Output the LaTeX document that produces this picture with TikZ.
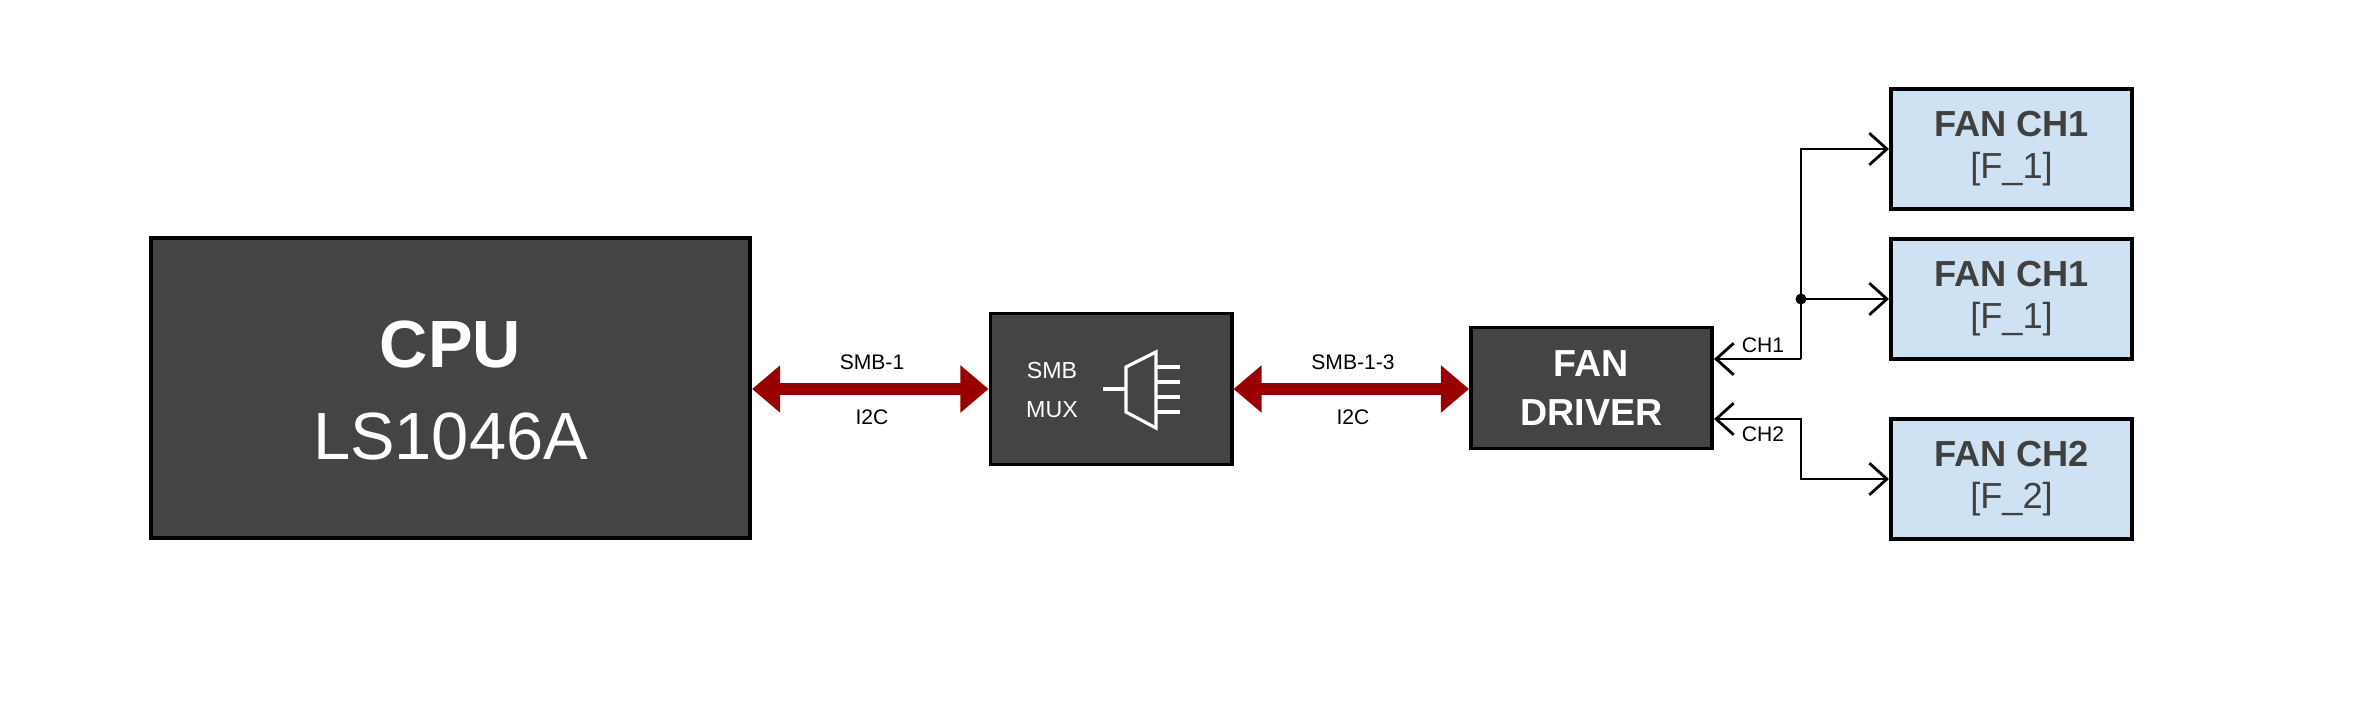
\documentclass[tikz,border=0pt]{standalone}
\usepackage{fontspec}
\setmainfont{Liberation Sans}
\usetikzlibrary{arrows.meta}
\definecolor{dk}{HTML}{444444}
\definecolor{fanfill}{HTML}{CFE2F3}
\definecolor{fantext}{HTML}{404040}
\definecolor{bus}{HTML}{990000}
\begin{document}
\begin{tikzpicture}[x=0.01cm,y=-0.01cm,
  blk/.style={draw=black,line width=1.1pt,fill=dk,text=white,inner sep=0pt,align=center},
  fan/.style={draw=black,line width=1.1pt,fill=fanfill,text=fantext,inner sep=0pt,align=center},
  busarr/.style={bus,line width=3.4pt,{Triangle[length=8pt,width=13pt]}-{Triangle[length=8pt,width=13pt]}},
  sig/.style={draw=black,line width=0.8pt,-{Straight Barb[length=5pt,width=9pt]}},
  lbl/.style={font=\fontsize{6}{7}\selectfont,inner sep=1pt}]
\useasboundingbox (0,0) rectangle (2363,709);
\node[blk,minimum width=5.99cm,minimum height=3.0cm] (cpu) at (450.5,388) {};
\node[text=white,font=\fontsize{19}{24}\selectfont\bfseries] (cput) at (450.5,344) {CPU};
\node[text=white,font=\fontsize{19}{24}\selectfont] (cpus) at (450.5,436) {LS1046A};
\node[blk,minimum width=2.41cm,minimum height=1.51cm] (mux) at (1111,389) {};
\node[text=white,font=\fontsize{6.6}{10}\selectfont,align=center] (muxt) at (1052,390) {SMB\\[1pt]MUX};
\draw[white,line width=0.9pt] (1126,367) -- (1156,352) -- (1156,428) -- (1126,412) -- cycle;
\draw[white,line width=0.9pt] (1103,389) -- (1126,389)
  (1156,367) -- (1180,367) (1156,382) -- (1180,382) (1156,397) -- (1180,397) (1156,412) -- (1180,412);
\node[blk,minimum width=2.41cm,minimum height=1.21cm,font=\fontsize{10.7}{14}\selectfont\bfseries] (drv) at (1591.5,388) {FAN\\DRIVER};
\node[fan,minimum width=2.41cm,minimum height=1.2cm] (f1) at (2011.5,149) {{\fontsize{10.3}{12}\selectfont\bfseries FAN CH1}\\{\fontsize{10.3}{12}\selectfont [F\_1]}};
\node[fan,minimum width=2.41cm,minimum height=1.2cm] (f2) at (2011.5,299) {{\fontsize{10.3}{12}\selectfont\bfseries FAN CH1}\\{\fontsize{10.3}{12}\selectfont [F\_1]}};
\node[fan,minimum width=2.41cm,minimum height=1.2cm] (f3) at (2011.5,479) {{\fontsize{10.3}{12}\selectfont\bfseries FAN CH2}\\{\fontsize{10.3}{12}\selectfont [F\_2]}};
\draw[busarr] (cpu.east|-0,389) -- (mux.west|-0,389);
\draw[busarr] (mux.east|-0,389) -- (drv.west|-0,389);
\node[lbl] at (872,362) {SMB-1};
\node[lbl] at (872,417) {I2C};
\node[lbl] at (1353,362) {SMB-1-3};
\node[lbl] at (1353,417) {I2C};
\coordinate (j) at (1801,299);
\draw[sig] (1801,359) -- (1801,149) -- (f1.west|-0,149);
\draw[sig] (j) -- (f2.west|-0,299);
\draw[sig] (1801,359) -- (drv.east|-0,359);
\fill (j) circle (5.5);
\draw[sig,{Straight Barb[length=5pt,width=9pt]}-{Straight Barb[length=5pt,width=9pt]}] (f3.west|-0,479) -- (1801,479) -- (1801,419) -- (drv.east|-0,419);
\node[lbl] at (1763,345) {CH1};
\node[lbl] at (1763,434) {CH2};
\end{tikzpicture}
\end{document}
